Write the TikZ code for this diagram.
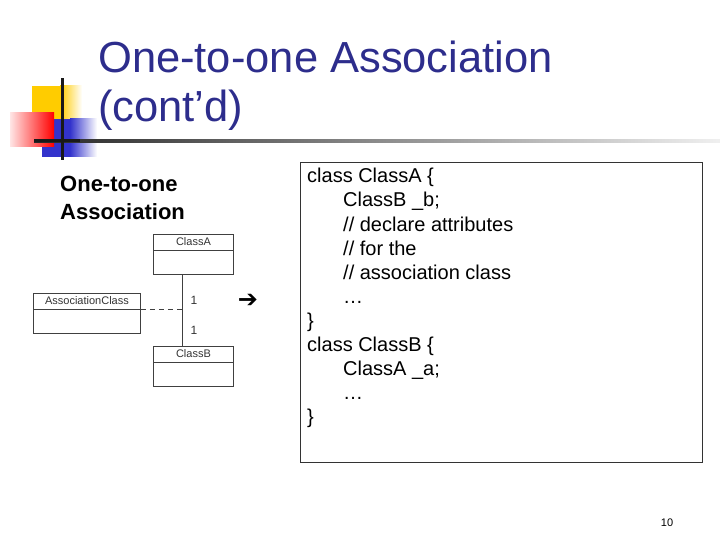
\documentclass[tikz,border=0pt]{standalone}
\usepackage{fontspec}
\setmainfont{Liberation Sans}
\newfontfamily\symfont{DejaVu Sans}
\usepackage{tikz}
\usetikzlibrary{positioning}

\definecolor{titleblue}{RGB}{45,45,140}
\definecolor{decoyellow}{RGB}{255,204,0}
\definecolor{decoblue}{RGB}{51,51,204}
\definecolor{umlgray}{RGB}{64,64,64}

\begin{document}
\begin{tikzpicture}[x=1pt, y=-1pt,
	txt/.style={inner sep=0pt, anchor=base west},
	titletxt/.style={txt, text=titleblue, font=\fontsize{43.5}{50}\selectfont},
	headtxt/.style={txt, font=\bfseries\fontsize{22}{28}\selectfont},
	codetxt/.style={txt, font=\fontsize{20}{24}\selectfont},
	umlbox/.style={draw=umlgray, line width=0.9pt, minimum height=40pt, inner sep=0pt, anchor=north west},
	umlname/.style={inner sep=0pt, text=umlgray!80!black, font=\fontsize{11}{13}\selectfont},
	umlline/.style={draw=umlgray, line width=0.9pt}]
	\useasboundingbox (0,0) rectangle (720,540);
	%
	% corner decoration
	\fill[decoyellow] (32,86) rectangle (60,119);
	\shade[left color=decoyellow, right color=white] (60,86) rectangle (82,119);
	\fill[decoblue] (42,119) rectangle (70,157);
	\shade[left color=decoblue, right color=white] (70,119) rectangle (97,157);
	\shade[left color=red!10, right color=red] (10,113) rectangle (54,147);
	\shade[left color=black!85, right color=black!6] (34,139.5) rectangle (720,142.5);
	\fill[black!90] (34,139.5) rectangle (80,142.5);
	\fill[black!90] (60.5,78) rectangle (63.5,160);
	%
	% title
	\node[titletxt] (title1) at (98,73) {One-to-one Association};
	\node[titletxt] (title2) at (98,122) {(cont’d)};
	%
	\node[headtxt] (head1) at (60,192) {One-to-one};
	\node[headtxt] (head2) at (60,220) {Association};
	%
	% class diagram
	\node[umlbox, minimum width=80pt] (clsa) at (153,234) {};
	\draw[umlline] ([yshift=-16pt]clsa.north west) -- ([yshift=-16pt]clsa.north east);
	\node[umlname] (clsaname) at ([yshift=-8pt]clsa.north) {ClassA};
	%
	\node[umlbox, minimum width=80pt] (clsb) at (153,346) {};
	\draw[umlline] ([yshift=-16pt]clsb.north west) -- ([yshift=-16pt]clsb.north east);
	\node[umlname] (clsbname) at ([yshift=-8pt]clsb.north) {ClassB};
	%
	\node[umlbox, minimum width=107pt] (assoc) at (33,293) {};
	\draw[umlline] ([yshift=-16pt]assoc.north west) -- ([yshift=-16pt]assoc.north east);
	\node[umlname] (assocname) at ([yshift=-8pt]assoc.north) {AssociationClass};
	%
	\coordinate (linetop) at ([xshift=-11pt]clsa.south);
	\coordinate (linebot) at ([xshift=-11pt]clsb.north);
	\coordinate (assocend) at ([yshift=-16pt]assoc.north east);
	\draw[umlline] (linetop) -- (linebot);
	\draw[umlline, dash pattern=on 5pt off 4pt] (assocend) -- (assocend -| linetop);
	\node[umlname, font=\fontsize{12}{14}\selectfont] (multa) at (194,300) {1};
	\node[umlname, font=\fontsize{12}{14}\selectfont] (multb) at (194,330) {1};
	%
	\node[inner sep=0pt, font=\symfont\fontsize{24}{26}\selectfont] (arrow) at (248,301) {➔};
	%
	% code box
	\node[draw=black!80, line width=0.9pt, minimum width=402pt, minimum height=300pt,
		inner sep=0pt, anchor=north west] (codebox) at (300,162) {};
	\foreach \x/\t [count=\i] in {0/{class ClassA \{}, 36/{ClassB \_b;},
		36/{// declare attributes}, 36/{// for the}, 36/{// association class},
		36/{…}, 0/{\}}, 0/{class ClassB \{}, 36/{ClassA \_a;}, 36/{…}, 0/{\}}}
		\node[codetxt] (code\i) at (307+\x,159+24*\i) {\t};
	%
	\node[inner sep=0pt, font=\fontsize{11}{13}\selectfont] (pagenum) at (667,523) {10};
\end{tikzpicture}
\end{document}
